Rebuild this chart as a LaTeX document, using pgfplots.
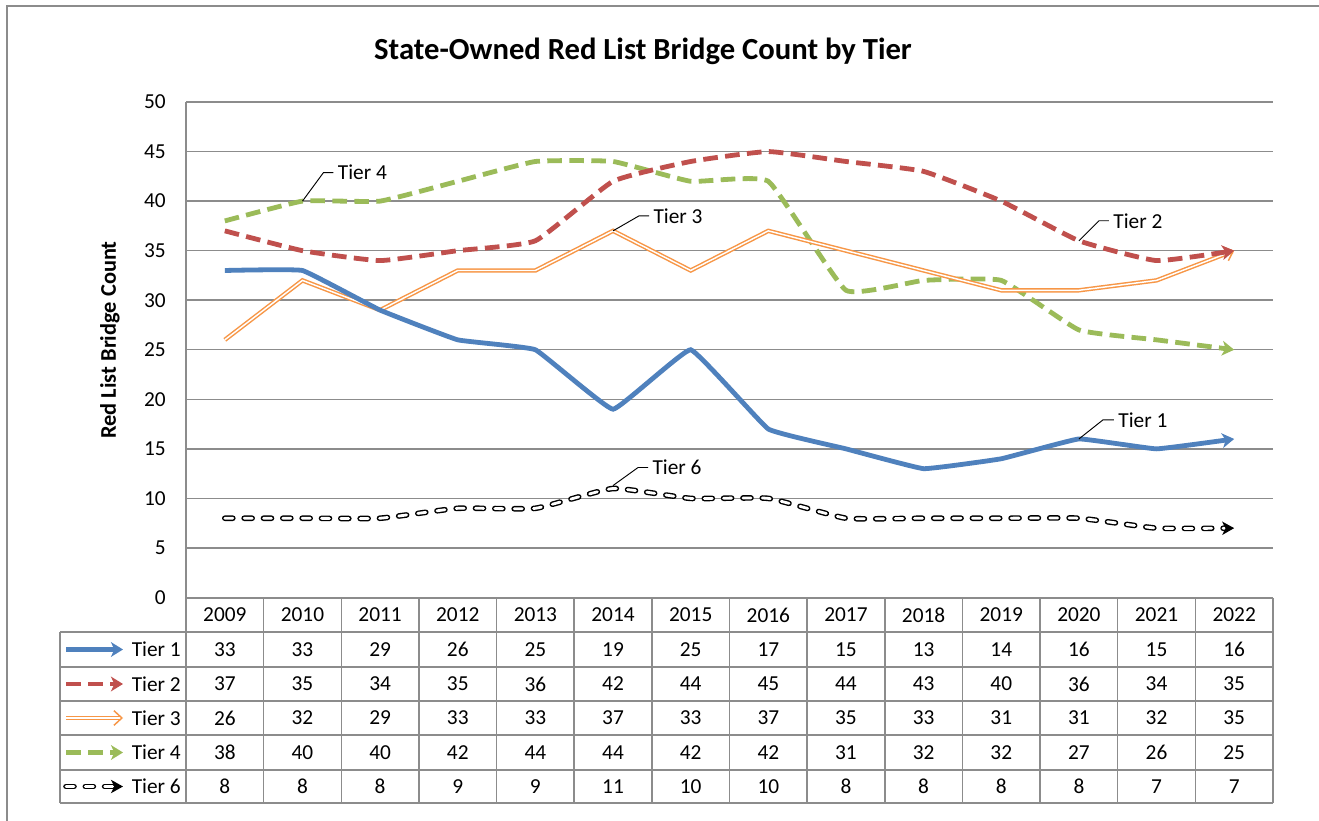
\documentclass[border=0pt]{standalone}
\usepackage{pgfplots}
\pgfplotsset{compat=1.18}
\usepackage{pgfplotstable}
\usepackage{fontspec}
\setmainfont{Carlito}
\usetikzlibrary{arrows.meta}

\definecolor{cT1}{HTML}{4F81BD}
\definecolor{cT2}{HTML}{C0504D}
\definecolor{cT3}{HTML}{F79646}
\definecolor{cT4}{HTML}{9BBB59}
\definecolor{gridc}{HTML}{8C8C8C}

\pgfplotstableread{
x year t1 t2 t3 t4 t6
0 2009 33 37 26 38 8
1 2010 33 35 32 40 8
2 2011 29 34 29 40 8
3 2012 26 35 33 42 9
4 2013 25 36 33 44 9
5 2014 19 42 37 44 11
6 2015 25 44 33 42 10
7 2016 17 45 37 42 10
8 2017 15 44 35 31 8
9 2018 13 43 33 32 8
10 2019 14 40 31 32 8
11 2020 16 36 31 27 8
12 2021 15 34 32 26 7
13 2022 16 35 35 25 7
}\data

\newcommand\fs{\fontsize{16}{19}\selectfont}

\tikzset{
  t1/.style={draw=cT1, line width=3.6pt, -{Stealth[length=9pt,width=11pt,inset=2.5pt]}},
  t2/.style={draw=cT2, line width=3.6pt, dash pattern=on 11pt off 5.5pt, -{Stealth[length=9pt,width=11pt,inset=2.5pt]}},
  t3/.style={draw=cT3, double=white, line width=1.1pt, double distance=1.1pt, -{Straight Barb[length=6pt,width=11pt]}},
  t4/.style={draw=cT4, line width=3.6pt, dash pattern=on 11pt off 5.5pt, -{Stealth[length=9pt,width=11pt,inset=2.5pt]}},
  t6/.style={draw=black, double=white, line width=1.05pt, double distance=2.1pt, line cap=round, dash pattern=on 6pt off 8.5pt, -{Stealth[length=9pt,width=10pt,inset=2.5pt]}},
  gl/.style={draw=gridc, line width=1.1pt},
  lead/.style={draw=black, line width=0.7pt},
}

\begin{document}
\begin{tikzpicture}
\useasboundingbox (0,0) rectangle (989.25pt,615pt);
\fill[white] (0,0) rectangle (989.25pt,615pt);

\begin{axis}[
  at={(139.5pt,166.875pt)}, anchor=south west,
  scale only axis, width=815.25pt, height=371.6pt,
  xmin=-0.5, xmax=13.5, ymin=0, ymax=50,
  ytick={0,5,...,50}, xtick={0,...,13},
  xticklabels={2009,2010,2011,2012,2013,2014,2015,2016,2017,2018,2019,2020,2021,2022},
  axis line style={draw=none},
  major tick length=0pt,
  ymajorgrids, grid style={gl},
  /pgf/number format/assume math mode=true,
  yticklabel style={font=\fs, inner sep=0pt, anchor=east, xshift=-15pt},
  xticklabel style={font=\fs, inner sep=0pt, anchor=center, yshift=-13.1pt},
  clip=false,
  nodes near coords style={font=\fs, anchor=center, inner sep=0pt},
]
\addplot[t6, smooth, tension=0.25] table[x=x,y=t6]{\data};
\addplot[t4, smooth, tension=0.22] table[x=x,y=t4]{\data};
\addplot[t3] table[x=x,y=t3]{\data};
\addplot[t2, smooth, tension=0.25] table[x=x,y=t2]{\data};
\addplot[t1, smooth, tension=0.15] table[x=x,y=t1]{\data};

\addplot[draw=none, mark=none, nodes near coords, point meta=explicit symbolic, forget plot] table[x=x, y expr={-52/9.91}, meta=t1]{\data};
\addplot[draw=none, mark=none, nodes near coords, point meta=explicit symbolic, forget plot] table[x=x, y expr={-86.5/9.91}, meta=t2]{\data};
\addplot[draw=none, mark=none, nodes near coords, point meta=explicit symbolic, forget plot] table[x=x, y expr={-120.5/9.91}, meta=t3]{\data};
\addplot[draw=none, mark=none, nodes near coords, point meta=explicit symbolic, forget plot] table[x=x, y expr={-155/9.91}, meta=t4]{\data};
\addplot[draw=none, mark=none, nodes near coords, point meta=explicit symbolic, forget plot] table[x=x, y expr={-189/9.91}, meta=t6]{\data};

\draw[lead] (axis cs:1,40) -- ++(15.75pt,21.4pt) -- ++(7.5pt,0pt) node[anchor=west, inner sep=3pt, font=\fs, text=black] {Tier 4};
\draw[lead] (axis cs:5,37) -- ++(19.5pt,11.25pt) -- ++(7.5pt,0pt) node[anchor=west, inner sep=3pt, font=\fs, text=black] {Tier 3};
\draw[lead] (axis cs:11,36) -- ++(15pt,15pt) -- ++(7.5pt,0pt) node[anchor=west, inner sep=3pt, font=\fs, text=black] {Tier 2};
\draw[lead] (axis cs:11,16) -- ++(18pt,14.25pt) -- ++(8.25pt,0pt) node[anchor=west, inner sep=3pt, font=\fs, text=black] {Tier 1};
\draw[lead] (axis cs:5,11.3) -- ++(18.75pt,13.5pt) -- ++(7.5pt,0pt) node[anchor=west, inner sep=3pt, font=\fs, text=black] {Tier 6};
\end{axis}

\begin{scope}[x=0.75pt, y=-0.75pt, shift={(0pt,615pt)}]
\draw[gridc, line width=1.4pt] (7,830) -- (7,6) -- (1330,6);
\node[font=\bfseries\fontsize{23}{27}\selectfont] at (643,51) {State-Owned Red List Bridge Count by Tier};
\node[rotate=90, font=\bfseries\fontsize{16.8}{20}\selectfont] at (110,340) {Red List Bridge Count};

% table grid
\draw[gl] (186,102) -- (186,803);
\draw[gl] (186,598) -- (1273,598);
\foreach \yy in {632,667,701,735,770,803} \draw[gl] (60,\yy) -- (1273,\yy);
\draw[gl] (60,632) -- (60,803);
\foreach \k in {1,...,14} \draw[gl] ({186+77.643*\k},598) -- ({186+77.643*\k},803);

% legend keys
\draw[t1] (66,649.5) -- (123,649.5);
\draw[t2] (66,684) -- (123,684);
\draw[t3] (66,718) -- (123,718);
\draw[t4] (66,752.5) -- (123,752.5);
\draw[t6] (66,786.5) -- (123,786.5);
\node[anchor=east, font=\fs, inner sep=0pt] at (181,649.5) {Tier 1};
\node[anchor=east, font=\fs, inner sep=0pt] at (181,684) {Tier 2};
\node[anchor=east, font=\fs, inner sep=0pt] at (181,718) {Tier 3};
\node[anchor=east, font=\fs, inner sep=0pt] at (181,752.5) {Tier 4};
\node[anchor=east, font=\fs, inner sep=0pt] at (181,786.5) {Tier 6};
\end{scope}
\end{tikzpicture}
\end{document}
